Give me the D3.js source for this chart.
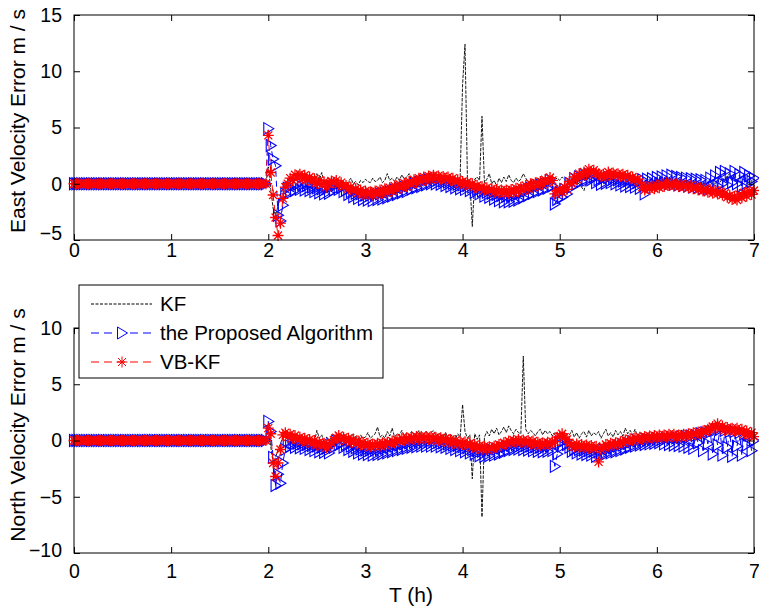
<!DOCTYPE html>
<html>
<head>
<meta charset="utf-8">
<script src="https://cdn.jsdelivr.net/npm/d3@7"></script>
<style>
  body { margin: 0; background: #fff; }
  svg text { font-family: "Liberation Sans", Arial, sans-serif; }
</style>
</head>
<body>
<svg id="chart"></svg>
<script>
// sample grid (hours), 0.025 h apart
const timeGrid = d3.range(281).map(i => +(i * 0.025).toFixed(3));

const xTicks = [0, 1, 2, 3, 4, 5, 6, 7];
const eastTicks = [-5, 0, 5, 10, 15];
const northTicks = [-10, -5, 0, 5, 10];
const seriesNames = ['KF', 'the Proposed Algorithm', 'VB-KF'];

// East velocity error, m/s (0 before 2 h)
const kfEast = [
  0,0,0,0,0,0,0,0,0,0, 0,0,0,0,0,0,0,0,0,0, 0,0,0,0,0,0,0,0,0,0, 0,0,0,0,0,0,0,0,0,0,
  0,0,0,0,0,0,0,0,0,0, 0,0,0,0,0,0,0,0,0,0, 0,0,0,0,0,0,0,0,0,0, 0,0,0,0,0,0,0,0,0,0,
  1.5,-0.5,-2.2,-2.8,-2.0,-1.0,-0.4,0.1,
  0.3,0.6,0.5,0.8,0.6,0.9,0.7,0.8,
  0.6,0.8,0.5,0.4,0.9,0.3,1.0,0.2,
  0.1,0.3,0.4,0.3,0.2,0.1,0.0,0.1,
  -0.1,0.2,0.5,0.0,0.2,-0.1,0.3,0.1,
  0.4,0.2,0.1,0.5,0.2,0.3,0.6,0.1,
  0.3,0.9,0.3,0.5,0.2,0.6,0.3,0.8,
  0.4,0.6,0.9,0.3,0.5,0.7,0.4,0.6,
  0.7,0.5,0.8,0.6,0.7,0.5,0.6,0.4,
  0.5,0.3,0.6,-0.3,0.4,0.2,-0.1,0.6,
  8.8,12.4,0.5,0.2,-3.8,0.4,0.6,0.3,
  6.0,0.1,0.4,0.9,0.0,0.3,-0.2,0.5,
  0.1,0.6,0.2,0.8,0.3,0.1,0.5,0.2,
  0.4,0.9,0.5,0.1,0.3,0.4,0.2,0.5,
  0.3,0.4,0.2,0.6,0.5,0.7,0.4,0.5,
  0.3,0.6,0.4,0.2,0.5,0.3,0.4,0.1,
  0.0,-0.3,-0.6,0.2,0.8,1.0,0.7,0.6,
  0.5,0.7,0.8,0.9,0.8,0.7,0.9,0.6,
  0.7,0.8,0.6,0.7,0.5,0.6,0.4,0.5,
  0.3,0.1,-0.2,-0.1,0.0,-0.1,0.1,0.0,
  0.1,0.2,0.1,0.3,0.2,0.3,0.2,0.4,
  0.3,0.2,0.3,0.1,0.2,0.0,0.2,0.1,
  0.0,0.1,-0.1,0.0,-0.2,0.1,-0.1,0.2,
  0.0,0.3,0.1,0.5,0.3,0.7,0.9,0.4,
  0.6,0.2,0.5,0.1,0.3,0.0,0.2,0.1,
  0.2
];
const propEast = [
  0,0,0,0,0,0,0,0,0,0, 0,0,0,0,0,0,0,0,0,0, 0,0,0,0,0,0,0,0,0,0, 0,0,0,0,0,0,0,0,0,0,
  0,0,0,0,0,0,0,0,0,0, 0,0,0,0,0,0,0,0,0,0, 0,0,0,0,0,0,0,0,0,0, 0,0,0,0,0,0,0,0,0,0,
  4.9,3.4,2.2,1.6,-2.8,-3.3,-1.9,-0.9,
  -0.4,-0.8,-0.1,-0.6,-0.05,-0.5,-0.1,-0.55,
  -0.15,-0.6,-0.3,-0.7,-0.35,-0.8,-0.45,-0.9,
  -0.45,-0.85,-0.25,-0.55,-0.1,-0.5,-0.3,-0.7,
  -0.55,-0.95,-0.7,-1.15,-0.85,-1.3,-0.9,-1.4,
  -1.0,-1.45,-1.0,-1.5,-0.95,-1.4,-0.9,-1.35,
  -0.85,-1.25,-0.7,-1.1,-0.55,-0.95,-0.4,-0.8,
  -0.3,-0.7,-0.15,-0.5,0.0,-0.35,0.1,-0.25,
  0.25,-0.1,0.35,0.0,0.4,0.0,0.35,-0.05,
  0.25,-0.15,0.15,-0.25,0.05,-0.35,-0.05,-0.45,
  -0.1,-0.5,-0.15,-0.6,-0.3,-0.75,-0.5,-0.9,
  -0.65,-1.1,-0.75,-1.2,-0.85,-1.35,-0.95,-1.5,
  -1.05,-1.6,-1.1,-1.6,-1.1,-1.55,-1.0,-1.45,
  -0.8,-1.25,-0.6,-1.05,-0.4,-0.85,-0.25,-0.7,
  -0.1,-0.55,0.0,-0.4,0.3,-0.2,-1.8,-1.4,
  -0.8,-1.2,-0.5,-0.9,0.05,-0.3,0.45,0.0,
  0.6,0.2,0.75,0.3,0.85,0.35,0.6,0.1,
  0.35,-0.05,0.5,0.05,0.55,0.1,0.45,0.0,
  0.35,-0.1,0.25,-0.2,0.25,-0.25,0.2,-0.3,
  0.1,-0.4,0.35,-0.9,0.4,-0.2,0.45,-0.1,
  0.55,0.0,0.6,0.05,0.7,0.0,0.75,-0.05,
  0.65,-0.1,0.55,-0.15,0.5,-0.2,0.45,-0.3,
  0.4,-0.3,0.35,-0.4,0.3,-0.45,0.5,-0.3,
  0.7,-0.2,1.0,0.0,1.1,-0.1,0.9,0.1,
  1.1,0.0,0.8,-0.2,1.0,-0.1,0.7,0.2,
  0.5
];
const vbEast = [
  0,0,0,0,0,0,0,0,0,0, 0,0,0,0,0,0,0,0,0,0, 0,0,0,0,0,0,0,0,0,0, 0,0,0,0,0,0,0,0,0,0,
  0,0,0,0,0,0,0,0,0,0, 0,0,0,0,0,0,0,0,0,0, 0,0,0,0,0,0,0,0,0,0, 0,0,0,0,0,0,0,0,0,0,
  4.3,1.0,-1.0,-3.0,-4.6,-3.5,-1.3,-0.3,
  0.0,0.5,0.3,0.8,0.5,0.85,0.45,0.75,
  0.35,0.6,0.2,0.45,0.05,0.3,-0.1,0.15,
  -0.3,0.0,0.25,0.1,0.3,-0.05,0.1,-0.25,
  -0.15,-0.45,-0.3,-0.65,-0.45,-0.8,-0.55,-0.95,
  -0.65,-0.95,-0.7,-1.0,-0.65,-0.95,-0.55,-0.85,
  -0.45,-0.8,-0.35,-0.65,-0.2,-0.5,-0.05,-0.35,
  0.05,-0.25,0.2,-0.05,0.35,0.1,0.5,0.2,
  0.6,0.3,0.7,0.4,0.75,0.45,0.7,0.4,
  0.65,0.35,0.6,0.3,0.5,0.15,0.35,0.0,
  0.2,-0.1,0.15,-0.15,0.0,-0.3,-0.15,-0.45,
  -0.25,-0.55,-0.35,-0.65,-0.45,-0.75,-0.5,-0.8,
  -0.55,-0.85,-0.55,-0.85,-0.5,-0.8,-0.4,-0.7,
  -0.3,-0.6,-0.15,-0.45,0.0,-0.3,0.1,-0.2,
  0.2,-0.05,0.35,0.1,0.55,0.3,-0.9,-0.6,
  -0.45,-0.75,-0.3,-0.5,0.2,0.0,0.6,0.4,
  0.9,0.65,1.05,0.8,1.3,1.0,1.2,0.95,
  0.9,0.65,0.85,0.6,1.05,0.8,0.95,0.7,
  0.9,0.65,0.85,0.6,0.75,0.5,0.6,0.35,
  0.4,0.15,-0.3,-0.55,-0.25,-0.5,-0.2,-0.45,
  -0.1,-0.35,0.0,-0.25,0.1,-0.15,0.05,-0.2,
  0.0,-0.25,-0.05,-0.3,-0.1,-0.35,-0.15,-0.45,
  -0.25,-0.55,-0.35,-0.65,-0.45,-0.75,-0.55,-0.85,
  -0.6,-0.9,-0.7,-1.0,-0.85,-1.2,-1.05,-1.4,
  -1.1,-1.45,-0.95,-1.25,-0.8,-1.1,-0.65,-0.95,
  -0.6
];

// North velocity error, m/s (0 before 2 h)
const kfNorth = [
  0,0,0,0,0,0,0,0,0,0, 0,0,0,0,0,0,0,0,0,0, 0,0,0,0,0,0,0,0,0,0, 0,0,0,0,0,0,0,0,0,0,
  0,0,0,0,0,0,0,0,0,0, 0,0,0,0,0,0,0,0,0,0, 0,0,0,0,0,0,0,0,0,0, 0,0,0,0,0,0,0,0,0,0,
  1.0,-0.5,-2.0,-1.5,-0.8,-0.3,0.3,0.5,
  0.3,0.2,0.4,0.1,0.3,0.2,0.1,0.0,
  0.2,0.0,0.1,-0.1,0.9,0.2,0.5,-0.2,
  0.3,0.1,0.2,0.4,0.3,0.5,0.2,0.6,
  0.1,0.4,0.2,0.6,0.3,0.1,0.5,0.2,
  0.3,0.7,0.2,0.4,0.6,1.2,0.3,0.5,
  0.2,0.8,0.4,1.1,0.3,0.6,0.5,0.9,
  0.4,0.7,0.5,0.8,0.6,0.5,0.9,0.4,
  0.6,0.8,0.5,0.7,0.9,0.4,0.6,0.5,
  0.3,0.7,0.2,0.5,0.4,0.1,0.6,0.3,
  3.2,0.8,0.2,0.5,-3.4,0.6,0.1,0.5,
  -6.8,0.3,0.8,0.4,1.0,0.6,1.1,0.5,
  0.8,1.2,0.7,1.3,0.9,0.6,1.0,0.7,
  0.6,7.5,1.0,0.6,0.9,0.7,0.4,0.8,
  1.0,0.5,0.9,0.6,0.8,0.4,0.7,0.5,
  0.4,0.3,0.6,0.2,0.5,0.9,0.3,0.7,
  0.2,0.6,0.8,0.3,0.9,0.4,0.7,0.5,
  0.8,0.2,0.6,1.0,0.4,0.7,0.3,0.9,
  0.5,0.8,0.4,1.1,0.6,0.9,0.5,1.0,
  0.4,0.7,0.5,0.6,0.4,0.5,0.3,0.4,
  0.3,0.5,0.4,0.6,0.5,0.4,0.6,0.5,
  0.4,0.6,0.5,0.7,0.6,0.5,0.7,0.6,
  0.7,0.8,0.9,1.0,1.2,1.3,1.4,1.5,
  1.3,1.2,1.1,1.0,1.1,0.9,1.0,0.8,
  0.9,0.8,0.7,0.6,0.5,0.4,0.3,0.2,
  0.2
];
const propNorth = [
  0,0,0,0,0,0,0,0,0,0, 0,0,0,0,0,0,0,0,0,0, 0,0,0,0,0,0,0,0,0,0, 0,0,0,0,0,0,0,0,0,0,
  0,0,0,0,0,0,0,0,0,0, 0,0,0,0,0,0,0,0,0,0, 0,0,0,0,0,0,0,0,0,0, 0,0,0,0,0,0,0,0,0,0,
  1.7,0.8,-1.5,-4.0,-3.0,-3.8,-2.0,-0.8,
  -0.1,-0.5,-0.2,-0.6,-0.25,-0.65,-0.3,-0.7,
  -0.35,-0.8,-0.45,-0.9,-0.5,-1.0,-0.6,-1.05,
  -0.7,-1.1,-0.35,-0.6,-0.05,-0.4,-0.2,-0.6,
  -0.35,-0.8,-0.5,-0.95,-0.65,-1.1,-0.75,-1.2,
  -0.85,-1.25,-0.85,-1.3,-0.85,-1.25,-0.8,-1.2,
  -0.7,-1.1,-0.6,-1.0,-0.5,-0.9,-0.4,-0.8,
  -0.3,-0.7,-0.2,-0.6,-0.15,-0.55,-0.1,-0.5,
  -0.1,-0.5,-0.1,-0.5,-0.1,-0.5,-0.15,-0.55,
  -0.2,-0.6,-0.3,-0.7,-0.4,-0.8,-0.45,-0.9,
  -0.55,-1.0,-0.65,-1.1,-0.8,-1.2,-0.9,-1.35,
  -0.95,-1.4,-0.9,-1.35,-0.85,-1.3,-0.75,-1.2,
  -0.65,-1.05,-0.5,-0.9,-0.4,-0.8,-0.35,-0.75,
  -0.4,-0.8,-0.45,-0.85,-0.5,-0.9,-0.55,-0.95,
  -0.6,-1.0,-0.55,-0.95,-0.5,-0.9,-2.3,-1.2,
  -0.2,-0.5,0.0,-0.35,-0.6,-0.95,-0.75,-1.1,
  -0.8,-1.2,-0.85,-1.25,-0.9,-1.3,-0.95,-1.4,
  -1.0,-1.3,-0.85,-1.2,-0.75,-1.1,-0.65,-1.0,
  -0.5,-0.9,-0.4,-0.75,-0.25,-0.6,-0.1,-0.5,
  -0.05,-0.4,0.0,-0.35,0.05,-0.3,0.1,-0.25,
  0.15,-0.2,0.1,-0.3,0.2,-0.35,0.2,-0.4,
  0.25,-0.45,0.3,-0.5,0.35,-0.6,0.4,-0.7,
  0.45,-0.2,0.6,-0.9,0.7,-0.3,0.75,-1.2,
  0.9,-0.4,1.0,-1.3,0.9,-0.6,0.8,-1.4,
  0.8,-0.5,0.7,-1.3,0.6,-0.4,0.5,-0.9,
  0.0
];
const vbNorth = [
  0,0,0,0,0,0,0,0,0,0, 0,0,0,0,0,0,0,0,0,0, 0,0,0,0,0,0,0,0,0,0, 0,0,0,0,0,0,0,0,0,0,
  0,0,0,0,0,0,0,0,0,0, 0,0,0,0,0,0,0,0,0,0, 0,0,0,0,0,0,0,0,0,0, 0,0,0,0,0,0,0,0,0,0,
  1.1,0.6,-2.0,-3.2,-2.0,-0.8,0.5,0.7,
  0.3,0.55,0.2,0.45,0.05,0.3,-0.05,0.2,
  -0.15,0.1,-0.25,0.0,-0.4,-0.15,-0.5,-0.25,
  -0.65,-0.4,-0.2,0.05,0.25,0.45,0.1,0.3,
  -0.05,0.2,-0.15,0.1,-0.3,-0.05,-0.4,-0.15,
  -0.5,-0.25,-0.55,-0.3,-0.5,-0.25,-0.5,-0.2,
  -0.4,-0.15,-0.3,-0.05,-0.2,0.05,-0.05,0.2,
  0.0,0.25,0.05,0.3,0.1,0.35,0.1,0.35,
  0.1,0.35,0.1,0.35,0.05,0.3,0.0,0.25,
  -0.05,0.2,-0.15,0.1,-0.25,0.0,-0.35,-0.1,
  -0.35,-0.1,-0.5,-0.25,-0.6,-0.35,-0.7,-0.45,
  -0.8,-0.5,-0.8,-0.55,-0.75,-0.5,-0.6,-0.35,
  -0.45,-0.2,-0.3,-0.05,-0.2,0.05,-0.15,0.1,
  -0.15,0.05,-0.25,0.0,-0.3,-0.05,-0.4,-0.15,
  -0.45,-0.2,-0.4,-0.15,-0.35,-0.1,-0.1,0.3,
  0.35,0.6,0.3,0.1,-0.2,-0.45,-0.55,-0.3,
  -0.6,-0.35,-0.65,-0.4,-0.7,-0.45,-0.75,-0.5,
  -1.9,-0.8,-0.6,-0.35,-0.5,-0.25,-0.45,-0.2,
  -0.35,-0.1,-0.2,0.05,-0.1,0.15,0.0,0.25,
  0.05,0.3,0.1,0.35,0.15,0.4,0.2,0.45,
  0.25,0.5,0.25,0.5,0.3,0.55,0.3,0.55,
  0.25,0.5,0.3,0.55,0.35,0.6,0.45,0.7,
  0.5,0.75,0.6,0.85,0.75,1.0,0.95,1.25,
  1.2,1.5,1.05,1.3,0.9,1.15,0.85,1.1,
  0.85,1.1,0.75,1.0,0.6,0.85,0.45,0.7,
  0.35
];

const width = 759, height = 610;
const svg = d3.select('#chart').attr('width', width).attr('height', height);

const x = d3.scaleLinear().domain([0, 7]).range([74, 754]);

const triPath = 'M-4.5,-6L-4.5,6L5.5,0Z';
const starPath = 'M-5.5,0H5.5M0,-5.5V5.5M-4,-4L4,4M-4,4L4,-4';

function drawPanel(y, ticks, kf, prop, vb, label, xPad, lowShift, labelY) {
  const g = svg.append('g');
  const [x0, x1] = x.range();
  const [y0, y1] = y.range();

  const line = d3.line().x(d => x(d[0])).y(d => y(d[1]));

  g.append('path')
    .datum(timeGrid.map((t, i) => [t, kf[i]]))
    .attr('d', line)
    .attr('fill', 'none')
    .attr('stroke', '#000')
    .attr('stroke-width', 0.9)
    .attr('stroke-dasharray', '3.5,1.2');

  const propPts = timeGrid.map((t, i) => [t, prop[i]]);
  g.append('path')
    .datum(propPts)
    .attr('d', line)
    .attr('fill', 'none')
    .attr('stroke', '#0000ff')
    .attr('stroke-width', 1)
    .attr('stroke-dasharray', '6,4');
  g.selectAll('.tri').data(propPts).enter().append('path')
    .attr('class', 'tri')
    .attr('d', triPath)
    .attr('transform', d => `translate(${x(d[0])},${y(d[1])})`)
    .attr('fill', 'none')
    .attr('stroke', '#0000ff')
    .attr('stroke-width', 1.1);

  const vbPts = timeGrid.map((t, i) => [t, vb[i]]);
  g.append('path')
    .datum(vbPts)
    .attr('d', line)
    .attr('fill', 'none')
    .attr('stroke', '#ff0000')
    .attr('stroke-width', 1)
    .attr('stroke-dasharray', '6,4');
  g.selectAll('.star').data(vbPts).enter().append('path')
    .attr('class', 'star')
    .attr('d', starPath)
    .attr('transform', d => `translate(${x(d[0])},${y(d[1])})`)
    .attr('fill', 'none')
    .attr('stroke', '#ff0000')
    .attr('stroke-width', 1.3);

  // frame
  g.append('rect')
    .attr('x', x0).attr('y', y1)
    .attr('width', x1 - x0).attr('height', y0 - y1)
    .attr('fill', 'none').attr('stroke', '#000').attr('stroke-width', 1);

  const fmt = d3.format('d');
  g.append('g')
    .attr('transform', `translate(0,${y0})`)
    .call(d3.axisBottom(x).tickValues(xTicks).tickFormat(fmt).tickSizeInner(-6).tickSizeOuter(0).tickPadding(xPad));
  g.append('g')
    .attr('transform', `translate(0,${y1})`)
    .call(d3.axisTop(x).tickValues(xTicks).tickSizeInner(-6).tickSizeOuter(0).tickFormat(''));
  const left = g.append('g')
    .attr('transform', `translate(${x0},0)`)
    .call(d3.axisLeft(y).tickValues(ticks).tickFormat(fmt).tickSizeInner(-6).tickSizeOuter(0).tickPadding(12));
  g.append('g')
    .attr('transform', `translate(${x1},0)`)
    .call(d3.axisRight(y).tickValues(ticks).tickSizeInner(-6).tickSizeOuter(0).tickFormat(''));

  g.selectAll('.domain').remove();
  g.selectAll('.tick line').attr('stroke', '#000');
  g.selectAll('.tick text')
    .attr('fill', '#000')
    .style('font-size', '19.5px');
  left.selectAll('.tick text').filter(d => d === ticks[0]).attr('dy', lowShift);

  g.append('text')
    .attr('transform', `translate(24.5,${labelY}) rotate(-90)`)
    .attr('text-anchor', 'middle')
    .style('font-size', '21px')
    .text(label);
}

const yEast = d3.scaleLinear().domain([-5, 15]).range([240, 15]);
const yNorth = d3.scaleLinear().domain([-10, 10]).range([553, 328]);

drawPanel(yEast, eastTicks, kfEast, propEast, vbEast, 'East Velocity Error  m / s', 3, '-0.05em', 121);
drawPanel(yNorth, northTicks, kfNorth, propNorth, vbNorth, 'North Velocity Error  m / s', 11, '0.2em', 425);

svg.append('text')
  .attr('x', 411)
  .attr('y', 602)
  .attr('text-anchor', 'middle')
  .style('font-size', '21px')
  .text('T (h)');

// legend
const legend = svg.append('g').attr('transform', 'translate(79,285)');
legend.append('rect')
  .attr('width', 304).attr('height', 93)
  .attr('fill', '#fff').attr('stroke', '#000').attr('stroke-width', 1);

const legendStyles = [
  { stroke: '#000', dash: '3,1.5', marker: null },
  { stroke: '#0000ff', dash: '8,5', marker: triPath },
  { stroke: '#ff0000', dash: '8,5', marker: starPath }
];
seriesNames.forEach((name, i) => {
  const row = legend.append('g').attr('transform', `translate(0,${19 + i * 29})`);
  const s = legendStyles[i];
  row.append('line')
    .attr('x1', 12).attr('x2', 73)
    .attr('stroke', s.stroke).attr('stroke-width', 1)
    .attr('stroke-dasharray', s.dash);
  if (s.marker) {
    row.append('path')
      .attr('d', s.marker)
      .attr('transform', 'translate(43,0)')
      .attr('fill', s.marker === triPath ? '#fff' : 'none')
      .attr('stroke', s.stroke).attr('stroke-width', 1);
  }
  row.append('text')
    .attr('x', 81).attr('y', 7)
    .style('font-size', '20.5px')
    .text(name);
});
</script>
</body>
</html>
